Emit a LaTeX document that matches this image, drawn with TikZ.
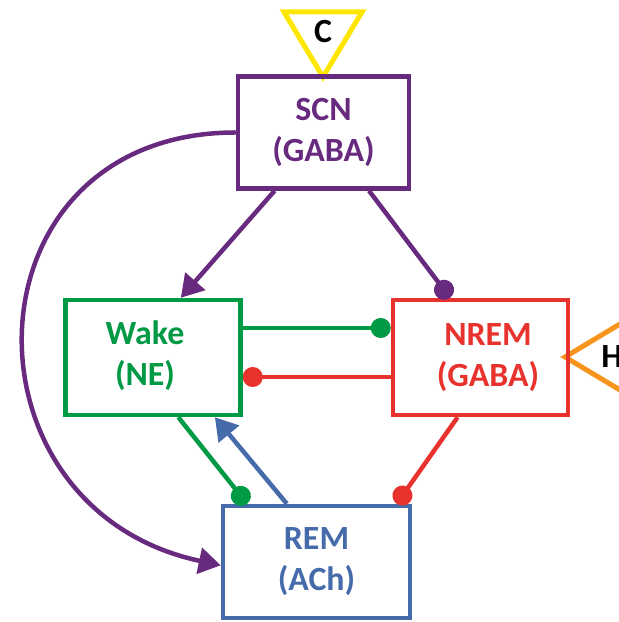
\documentclass[tikz,border=0pt]{standalone}
\usepackage{fontspec}
\setmainfont{Carlito}
\usetikzlibrary{arrows.meta}
\definecolor{scnpurple}{RGB}{104,42,126}
\definecolor{wakegreen}{RGB}{0,153,68}
\definecolor{nremred}{RGB}{232,50,45}
\definecolor{remblue}{RGB}{70,107,171}
\definecolor{cueyellow}{RGB}{255,230,0}
\definecolor{cueorange}{RGB}{247,148,30}
\tikzstyle{state box}=[draw, line width=4.5bp, minimum width=175bp, minimum height=115bp, inner sep=0pt]
\tikzstyle{state text}=[font=\fontsize{34}{41}\selectfont\bfseries, align=center]
\tikzstyle{link}=[line width=4.5bp]
\tikzstyle{excite}=[link, -{Triangle[length=22bp, width=26bp]}]
\tikzstyle{inhibit}=[link, -{Circle[length=20bp]}]
\tikzstyle{cue}=[line width=5bp, line join=miter]

\begin{document}
\begin{tikzpicture}[x=1bp, y=1bp]
      \useasboundingbox (0,0) rectangle (619,622);
      \clip (0,0) rectangle (619,622);
      % external cues
      \coordinate (c-tip) at (323,545);
      \draw[cue, draw=cueyellow] (284,610) -- (362,610) -- (c-tip) -- cycle;
      \node[state text] (c) at (323,590) {C};
      \coordinate (h-tip) at (565,265);
      \draw[cue, draw=cueorange] (h-tip) -- (630,304) -- (630,226) -- cycle;
      \node[state text] (h) at (612,265) {H};
      % populations
      \node[state box, draw=scnpurple, minimum width=171bp, minimum height=112bp] (scn) at (323.5,489.5) {};
      \node[state box, draw=wakegreen] (wake) at (153,264.5) {};
      \node[state box, draw=nremred] (nrem) at (480.5,264.5) {};
      \node[state box, draw=remblue, minimum width=187bp, minimum height=112bp] (rem) at (316.5,60) {};
      \node[state text, text=scnpurple] (scn-text) at (scn.center) {SCN\\(GABA)};
      \node[state text, text=wakegreen] (wake-text) at (145,266) {Wake\\(NE)};
      \node[state text, text=nremred] (nrem-text) at (488,264) {NREM\\(GABA)};
      \node[state text, text=remblue] (rem-text) at (rem.center) {REM\\(ACh)};
      % projections
      \draw[excite, scnpurple] (scn.west)
        to[out=180, in=168, looseness=1.62] (rem.182);
      \draw[excite, scnpurple] (scn.230) -- (wake.65);
      \draw[inhibit, scnpurple] (scn.-52) -- (nrem.117);
      \draw[inhibit, wakegreen] ([yshift=29.5bp]wake.east) -- ([yshift=29.5bp]nrem.west);
      \draw[inhibit, nremred] ([yshift=-19.5bp]nrem.west) -- ([yshift=-19.5bp]wake.east);
      \draw[inhibit, wakegreen] (wake.-67) -- (rem.140);
      \draw[excite, remblue] (rem.117) -- (wake.-44);
      \draw[inhibit, nremred] (nrem.-111) -- (rem.36);
    \end{tikzpicture}
\end{document}
